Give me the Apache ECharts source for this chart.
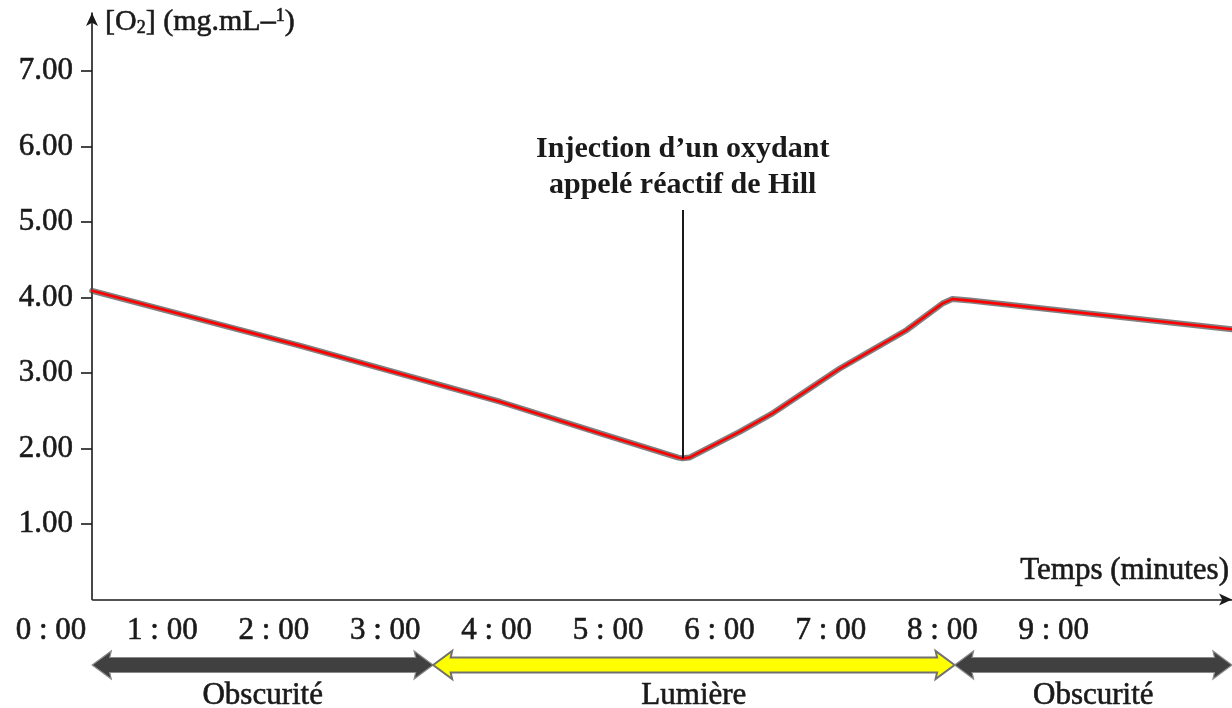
<!DOCTYPE html>
<html>
<head>
<meta charset="utf-8">
<style>
  html, body { margin: 0; padding: 0; background: #fff; }
  #chart { width: 1232px; height: 708px; }
</style>
<script src="https://cdn.jsdelivr.net/npm/echarts@6/dist/echarts.min.js"></script>
</head>
<body>
<div id="chart"></div>
<script>
// ---- data ----
const timeTickValues = [0, 1, 2, 3, 4, 5, 6, 7, 8, 9];
const timeTickLabels = ['0 : 00', '1 : 00', '2 : 00', '3 : 00', '4 : 00', '5 : 00', '6 : 00', '7 : 00', '8 : 00', '9 : 00'];
const o2TickValues = [1, 2, 3, 4, 5, 6, 7];
const o2TickLabels = ['1.00', '2.00', '3.00', '4.00', '5.00', '6.00', '7.00'];

const curveTime = [0.37, 2.24, 4.03, 4.93, 5.63, 5.67, 5.73, 6.18, 6.48, 7.08, 7.68, 8.00, 8.09, 8.25, 10.6];
const curveO2   = [4.09, 3.36, 2.62, 2.20, 1.88, 1.87, 1.88, 2.22, 2.47, 3.06, 3.57, 3.92, 3.98, 3.96, 3.58];

const axisStartTime = 0.37;
const axisEndTime = 10.6;

const injectionTime = 5.67;
const injectionFromO2 = 1.87;
const injectionToO2 = 5.16;
const injectionText = 'Injection d\u2019un oxydant\nappelé réactif de Hill';

const phaseStart = [0.37, 3.43, 8.11];
const phaseEnd = [3.43, 8.11, 10.6];
const phaseLabels = ['Obscurité', 'Lumière', 'Obscurité'];
const phaseIsLight = [false, true, false];

const xName = 'Temps (minutes)';

// ---- chart ----
const FONT = "'Liberation Serif', 'DejaVu Serif', serif";
const INK = '#1a1a1a';
const THICK = { textBorderColor: '#1a1a1a', textBorderWidth: 0.6 };
const chart = echarts.init(document.getElementById('chart'), null, { renderer: 'canvas' });

const curveData = curveTime.map((t, i) => [t, curveO2[i]]);
const phaseData = phaseStart.map((s, i) => [s, phaseEnd[i], 0, i]);

const option = {
  animation: false,
  backgroundColor: '#ffffff',
  grid: { left: 51, right: 0, top: 13, bottom: 108.5, containLabel: false },
  xAxis: {
    type: 'value',
    min: 0,
    max: 10.6,
    axisLine: { show: false },
    axisTick: { show: false },
    splitLine: { show: false },
    axisLabel: Object.assign({
      customValues: timeTickValues,
      formatter: v => { const i = timeTickValues.indexOf(v); return i >= 0 ? timeTickLabels[i] : ''; },
      margin: 16,
      fontFamily: FONT,
      fontSize: 31,
      color: INK
    }, THICK)
  },
  yAxis: {
    type: 'value',
    min: 0,
    max: 7.77,
    offset: -41,
    name: '{t|[O}{s|2}{t|] (mg.mL–}{p|1}{t|)}',
    nameLocation: 'end',
    nameGap: -9,
    nameTextStyle: {
      align: 'left',
      verticalAlign: 'middle',
      padding: [0, 0, 0, 13],
      rich: {
        t: Object.assign({ fontFamily: FONT, fontSize: 30, color: INK, lineHeight: 30 }, THICK),
        s: Object.assign({ fontFamily: FONT, fontSize: 18, color: INK, lineHeight: 10, verticalAlign: 'bottom', padding: [0, 0, 0, 0] }, THICK),
        p: Object.assign({ fontFamily: FONT, fontSize: 18, color: INK, lineHeight: 26, verticalAlign: 'top' }, THICK)
      }
    },
    axisLine: {
      show: true,
      onZero: false,
      symbol: ['none', 'arrow'],
      symbolSize: [9, 13],
      lineStyle: { color: INK, width: 1.6 }
    },
    axisTick: {
      show: true,
      customValues: o2TickValues,
      length: 11,
      lineStyle: { color: INK, width: 1.6 }
    },
    splitLine: { show: false },
    axisLabel: Object.assign({
      customValues: o2TickValues,
      formatter: v => { const i = o2TickValues.indexOf(v); return i >= 0 ? o2TickLabels[i] : ''; },
      margin: 19,
      padding: [6, 0, 0, 0],
      fontFamily: FONT,
      fontSize: 31,
      color: INK
    }, THICK)
  },
  series: [
    {
      type: 'custom',
      clip: false,
      silent: true,
      encode: { x: [0, 1], y: 2 },
      data: phaseData,
      renderItem: (params, api) => {
        const a = api.coord([api.value(0), 0]);
        const b = api.coord([api.value(1), 0]);
        const idx = api.value(3);
        const x0 = a[0], x1 = b[0];
        const y = a[1] + 65.5;
        const hl = 19, hh = 14, sh = 7.5;
        const pts = [
          [x0, y], [x0 + hl, y - hh], [x0 + hl - 1.5, y - sh], [x1 - hl + 1.5, y - sh], [x1 - hl, y - hh],
          [x1, y], [x1 - hl, y + hh], [x1 - hl + 1.5, y + sh], [x0 + hl - 1.5, y + sh], [x0 + hl, y + hh]
        ];
        const light = phaseIsLight[idx];
        return {
          type: 'group',
          children: [
            {
              type: 'polygon',
              shape: { points: pts },
              style: {
                fill: light ? '#ffff00' : '#404040',
                stroke: light ? '#707070' : '#8a8a8a',
                lineWidth: light ? 2 : 1.2
              }
            },
            {
              type: 'text',
              style: {
                text: phaseLabels[idx],
                x: (x0 + x1) / 2,
                y: y + 31,
                align: 'center',
                verticalAlign: 'middle',
                font: '31px ' + FONT,
                fill: INK,
                stroke: INK,
                lineWidth: 0.6
              }
            }
          ]
        };
      }
    },
    {
      type: 'line',
      data: curveData,
      showSymbol: false,
      symbol: 'none',
      silent: true,
      lineStyle: { color: '#4a4a4a', width: 6, opacity: 0.7, join: 'round', cap: 'round' },
      z: 2,
      markLine: {
        silent: true,
        symbol: ['none', 'none'],
        animation: false,
        data: [
          [
            {
              coord: [axisStartTime, 0],
              symbol: 'none',
              lineStyle: { color: INK, width: 1.6, type: 'solid' },
              label: Object.assign({
                show: true,
                position: 'insideEndTop',
                formatter: xName,
                distance: 13,
                padding: [0, -10, 0, 0],
                fontFamily: FONT,
                fontSize: 31,
                color: INK
              }, THICK)
            },
            { coord: [axisEndTime, 0], symbol: 'arrow', symbolSize: [9, 13] }
          ],
          [
            {
              coord: [injectionTime, injectionFromO2],
              symbol: 'none',
              lineStyle: { color: INK, width: 2, type: 'solid' },
              label: {
                show: true,
                position: 'end',
                formatter: injectionText,
                distance: 7,
                fontFamily: FONT,
                fontSize: 30,
                fontWeight: 'bold',
                lineHeight: 36,
                align: 'center',
                color: INK
              }
            },
            { coord: [injectionTime, injectionToO2], symbol: 'none' }
          ]
        ]
      }
    },
    {
      type: 'line',
      data: curveData,
      showSymbol: false,
      symbol: 'none',
      silent: true,
      lineStyle: { color: '#ff0000', width: 2.6, join: 'round', cap: 'round' },
      z: 3
    }
  ]
};

chart.setOption(option);
</script>
</body>
</html>
